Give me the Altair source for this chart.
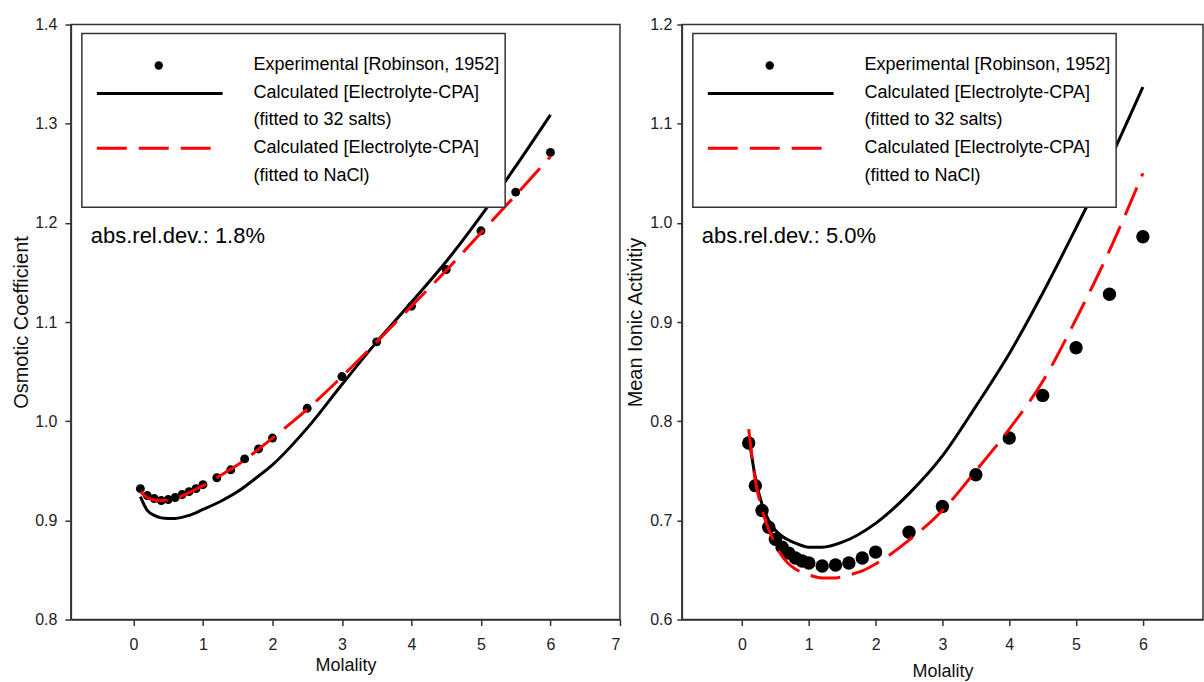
import altair as alt
import pandas as pd

FONT = "Liberation Sans"

# Experimental data (Robinson, 1952) - NaCl
molality_exp = [0.1, 0.2, 0.3, 0.4, 0.5, 0.6, 0.7, 0.8, 0.9, 1.0, 1.2, 1.4, 1.6, 1.8,
                2.0, 2.5, 3.0, 3.5, 4.0, 4.5, 5.0, 5.5, 6.0]
osmotic_exp = [0.932, 0.925, 0.922, 0.920, 0.921, 0.923, 0.926, 0.929, 0.932, 0.936,
               0.943, 0.951, 0.962, 0.972, 0.983, 1.013, 1.045, 1.080, 1.116, 1.153,
               1.192, 1.231, 1.271]
activity_exp = [0.778, 0.735, 0.710, 0.693, 0.681, 0.673, 0.667, 0.662, 0.659, 0.657,
                0.654, 0.655, 0.657, 0.662, 0.668, 0.688, 0.714, 0.746, 0.783, 0.826,
                0.874, 0.928, 0.986]

# Calculated osmotic coefficient (fitted to 32 salts)
osm32_m = [0.1, 0.2, 0.3, 0.4, 0.5, 0.6, 0.8, 1.0, 1.25, 1.5, 1.75, 2.0, 2.5, 3.0,
           3.5, 4.0, 4.5, 5.0, 5.5, 6.0]
osm32_v = [0.924, 0.910, 0.905, 0.9025, 0.902, 0.902, 0.905, 0.911, 0.919, 0.929,
           0.942, 0.956, 0.993, 1.037, 1.080, 1.120, 1.161, 1.207, 1.257, 1.309]
# Calculated osmotic coefficient (fitted to NaCl)
osmNa_m = [0.1, 0.2, 0.3, 0.4, 0.5, 0.6, 0.8, 1.0, 1.2, 1.5, 2.0, 2.5, 3.0, 3.5, 4.0,
           4.5, 5.0, 5.5, 6.0]
osmNa_v = [0.929, 0.923, 0.9205, 0.920, 0.9205, 0.922, 0.928, 0.935, 0.943, 0.956,
           0.983, 1.012, 1.045, 1.080, 1.116, 1.152, 1.190, 1.228, 1.267]

# Calculated mean ionic activity coefficient (fitted to 32 salts)
act32_m = [0.1, 0.2, 0.3, 0.4, 0.5, 0.6, 0.8, 1.0, 1.2, 1.5, 2.0, 2.5, 3.0, 3.5, 4.0,
           4.5, 5.0, 5.5, 6.0]
act32_v = [0.785, 0.743, 0.716, 0.700, 0.690, 0.684, 0.677, 0.673, 0.673, 0.678,
           0.697, 0.727, 0.765, 0.815, 0.868, 0.929, 0.995, 1.063, 1.137]
# Calculated mean ionic activity coefficient (fitted to NaCl)
actNa_m = [0.1, 0.2, 0.3, 0.4, 0.5, 0.6, 0.7, 0.8, 1.0, 1.2, 1.4, 1.6, 1.8, 2.0, 2.5,
           3.0, 3.5, 4.0, 4.5, 5.0, 5.5, 6.0]
actNa_v = [0.792, 0.740, 0.711, 0.691, 0.675, 0.664, 0.656, 0.651, 0.645, 0.642,
           0.642, 0.645, 0.649, 0.656, 0.680, 0.710, 0.750, 0.792, 0.840, 0.903,
           0.972, 1.050]

legend_lines = ["Experimental [Robinson, 1952]", "Calculated [Electrolyte-CPA]",
                "(fitted to 32 salts)", "Calculated [Electrolyte-CPA]", "(fitted to NaCl)"]

left_yticks = [0.8, 0.9, 1.0, 1.1, 1.2, 1.3, 1.4]
right_yticks = [0.6, 0.7, 0.8, 0.9, 1.0, 1.1, 1.2]


def panel(exp_y, c32_m, c32_v, cna_m, cna_v, ydom, yvals, ytitle, xmax, xvals,
          w, h, pt_size, ann, ytick, ylabpad, ytitlepad, xtitlepad):
    xs = alt.Scale(domain=[-0.9, xmax], nice=False, zero=False)
    ys = alt.Scale(domain=ydom, nice=False, zero=False)
    xax = alt.Axis(values=xvals, title="Molality", format="d", tickSize=6,
                   labelPadding=11, titlePadding=xtitlepad, grid=False)
    yax = alt.Axis(values=yvals, title=ytitle, format=".1f", tickSize=ytick,
                   labelPadding=ylabpad, titlePadding=ytitlepad, titleFontSize=20,
                   grid=False)
    X = alt.X("m:Q", scale=xs, axis=xax)
    Y = alt.Y("v:Q", scale=ys, axis=yax)

    pts = alt.Chart(pd.DataFrame({"m": molality_exp, "v": exp_y})).mark_circle(
        size=pt_size, color="black", opacity=1).encode(x=X, y=Y)
    l32 = alt.Chart(pd.DataFrame({"m": c32_m, "v": c32_v})).mark_line(
        color="black", strokeWidth=3, interpolate="monotone").encode(x=X, y=Y)
    lna = alt.Chart(pd.DataFrame({"m": cna_m, "v": cna_v})).mark_line(
        color="#ff0000", strokeWidth=3, strokeDash=[30, 12],
        interpolate="monotone").encode(x=X, y=Y)

    dummy = alt.Data(values=[{"a": 1}])
    box = alt.Chart(dummy).mark_rect(fill="white", stroke="#333", strokeWidth=1.5).encode(
        x=alt.value(11), x2=alt.value(435), y=alt.value(9), y2=alt.value(183))
    ldot = alt.Chart(dummy).mark_circle(size=70, color="black", opacity=1).encode(
        x=alt.value(88), y=alt.value(41))
    lsolid = alt.Chart(dummy).mark_rule(color="black", strokeWidth=3).encode(
        x=alt.value(26), x2=alt.value(152), y=alt.value(69))
    ldash = alt.Chart(dummy).mark_rule(color="#ff0000", strokeWidth=3,
                                       strokeDash=[30, 12]).encode(
        x=alt.value(26), x2=alt.value(140), y=alt.value(124))
    texts = []
    for t, yy in zip(legend_lines, [41, 69, 96, 124, 152]):
        texts.append(alt.Chart(dummy).mark_text(
            align="left", baseline="middle", font=FONT, fontSize=18, color="black"
        ).encode(x=alt.value(183), y=alt.value(yy), text=alt.value(t)))
    annot = alt.Chart(dummy).mark_text(
        align="left", baseline="middle", font=FONT, fontSize=22, color="black"
    ).encode(x=alt.value(20), y=alt.value(212), text=alt.value(ann))

    return alt.layer(pts, l32, lna, box, ldot, lsolid, ldash, *texts, annot).properties(
        width=w, height=h)


left = panel(osmotic_exp, osm32_m, osm32_v, osmNa_m, osmNa_v, [0.8, 1.4], left_yticks,
             "Osmotic Coefficient", 7, [0, 1, 2, 3, 4, 5, 6, 7], 550, 596, 80,
             "abs.rel.dev.: 1.8%", 6, 8, 3, 4)
right = panel(activity_exp, act32_m, act32_v, actNa_m, actNa_v, [0.6, 1.2], right_yticks,
              "Mean Ionic Activitiy", 6.9, [0, 1, 2, 3, 4, 5, 6], 522, 596, 180,
              "abs.rel.dev.: 5.0%", 5, 5, 4, 10)

chart = alt.hconcat(left, right, spacing=3).properties(
    padding={"left": 11, "top": 15, "right": 0, "bottom": 0},
    background="white",
).configure_view(
    stroke="#333", strokeWidth=1.5
).configure_axis(
    labelFont=FONT, labelFontSize=16, labelColor="#222",
    titleFont=FONT, titleFontSize=18, titleColor="#111", titleFontWeight="normal",
    domainColor="#333", domainWidth=1.5, tickColor="#333", tickWidth=1.5,
)

chart.save("out.html", embed_options={"renderer": "svg", "actions": False})
